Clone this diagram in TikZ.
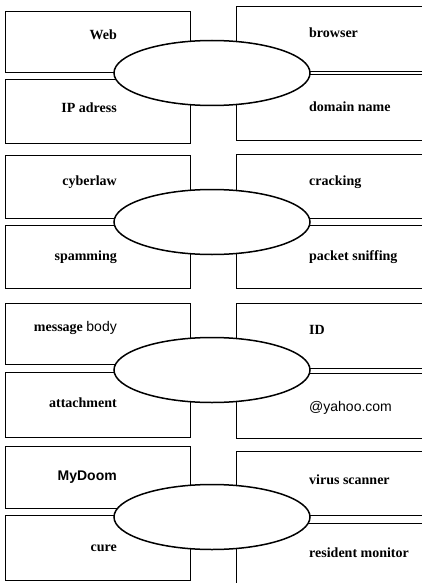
\documentclass[tikz,border=0pt]{standalone}
\usepackage{fontspec}
\setmainfont{Liberation Serif}
\newfontfamily\plainsans{Liberation Sans}
\usetikzlibrary{shapes.geometric}

\tikzset{
    box/.style={draw, rectangle, line width=1pt, inner sep=0pt, outer sep=0pt},
    lbox/.style={box, minimum width=185pt},
    rbox/.style={box, minimum width=194pt},
    hub/.style={draw, ellipse, fill=white, line width=1.5pt, inner sep=0pt,
                minimum width=196pt, minimum height=65pt},
    word/.style={inner sep=0pt, font=\fontsize{14}{16}\selectfont\bfseries},
    lword/.style={word, anchor=east},
    rword/.style={word, anchor=west},
}

\begin{document}
\begin{tikzpicture}[x=1pt, y=-1pt]
        \useasboundingbox (0,0) rectangle (422,583);
        \clip (0,0) rectangle (422,583);

        % left column
        \node[lbox, minimum height=61pt] (web box)  at (97.5, 42.5) {};
        \node[lbox, minimum height=63pt] (ip box)   at (97.5,111.5) {};
        \node[lbox, minimum height=63pt] (law box)  at (97.5,186.5) {};
        \node[lbox, minimum height=63pt] (spam box) at (97.5,256.5) {};
        \node[lbox, minimum height=61pt] (body box) at (97.5,333.5) {};
        \node[lbox, minimum height=65pt] (att box)  at (97.5,404.5) {};
        \node[lbox, minimum height=62pt] (doom box) at (97.5,477.0) {};
        \node[lbox, minimum height=65pt] (cure box) at (97.5,547.5) {};

        % right column
        \node[rbox, minimum height=65pt] (brw box)  at (333, 39.5) {};
        \node[rbox, minimum height=65pt] (dns box)  at (333,107.5) {};
        \node[rbox, minimum height=64pt] (crk box)  at (333,186.0) {};
        \node[rbox, minimum height=63pt] (snf box)  at (333,256.5) {};
        \node[rbox, minimum height=65pt] (id box)   at (333,335.5) {};
        \node[rbox, minimum height=65pt] (mail box) at (333,405.5) {};
        \node[rbox, minimum height=64pt] (scan box) at (333,483.0) {};
        \node[rbox, minimum height=77pt] (mon box)  at (333,561.5) {};

        % ellipses on top
        \node[hub] (hub web)   at (212, 73) {};
        \node[hub] (hub crime) at (212,222) {};
        \node[hub] (hub mail)  at (212,370) {};
        \node[hub] (hub virus) at (212,517) {};

        \node[lword] (web)  at (117, 35) {Web};
        \node[lword] (ip)   at (117,108) {IP adress};
        \node[lword] (law)  at (117,182) {cyberlaw};
        \node[lword] (spam) at (117,257) {spamming};
        \node[lword] (body) at (117,328) {message \mdseries\plainsans body};
        \node[lword] (att)  at (117,403) {attachment};
        \node[lword] (doom) at (117,477) {\plainsans MyDoom};
        \node[lword] (cure) at (117,548) {cure};

        \node[rword] (brw)  at (309, 33) {browser};
        \node[rword] (dns)  at (309,107) {domain name};
        \node[rword] (crk)  at (309,182) {cracking};
        \node[rword] (snf)  at (309,257) {packet sniffing};
        \node[rword] (id)   at (309,330) {ID};
        \node[rword] (mail) at (309,408) {\mdseries\plainsans @yahoo.com};
        \node[rword] (scan) at (309,480) {virus scanner};
        \node[rword] (mon)  at (309,553) {resident monitor};

    \end{tikzpicture}
\end{document}
